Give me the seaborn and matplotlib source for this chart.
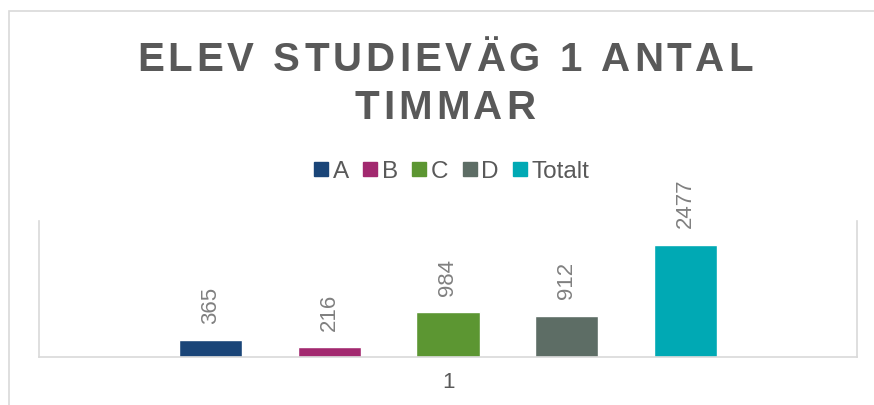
import matplotlib
matplotlib.use('Agg')
import matplotlib.pyplot as plt
import matplotlib.patches as mpatches
from matplotlib.lines import Line2D
from matplotlib import font_manager, ft2font
import pandas as pd
import seaborn as sns

# data
series = ['A', 'B', 'C', 'D', 'Totalt']
values = [365, 216, 984, 912, 2477]
category = '1'
colors = ['#1a4578', '#a2296f', '#5c9632', '#5d6d65', '#00a9b4']
title_lines = ['ELEV STUDIEVÄG 1 ANTAL', 'TIMMAR']

df = pd.DataFrame({'cat': [category] * len(series), 'serie': series, 'val': values})

sns.set_style('white')
plt.rcParams['font.family'] = ['Liberation Sans', 'DejaVu Sans']

W, H = 874, 405
fig = plt.figure(figsize=(W / 100, H / 100), dpi=100)
ax = fig.add_axes([39 / W, (H - 357) / H, (857 - 39) / W, (357 - 221) / H])

sns.barplot(data=df, x='cat', y='val', hue='serie', hue_order=series,
            palette=colors, saturation=1, width=0.727, gap=0.47,
            legend=False, ax=ax)

for cont in ax.containers:
    ax.bar_label(cont, rotation=90, padding=12, color='#808080', fontsize=16)

ax.set_ylim(0, 3000)
ax.set_xlim(-0.5, 0.5)
ax.set_xlabel('')
ax.set_ylabel('')
ax.set_yticks([])
ax.tick_params(axis='x', length=0, pad=11, labelsize=16, labelcolor='#595959')
for side in ['left', 'right', 'bottom']:
    ax.spines[side].set_color('#d9d9d9')
    ax.spines[side].set_linewidth(1.2)
ax.spines['top'].set_visible(False)

# legend
handles = [Line2D([], [], marker='s', linestyle='none', markersize=9.5,
                  markerfacecolor=c, markeredgecolor=c) for c in colors]
leg = fig.legend(handles, series, loc='center', ncol=5, frameon=False,
                 bbox_to_anchor=(452 / W, 1 - 172 / H), fontsize=17.5,
                 handlelength=0.55, handletextpad=0.2, columnspacing=0.6,
                 labelcolor='#595959')

# title, drawn letter by letter for the wide spacing
title_size = 29
fp = font_manager.FontProperties(family='Liberation Sans', weight='bold')
ft = ft2font.FT2Font(font_manager.findfont(fp))
ft.set_size(title_size, fig.dpi)
spacing = 4
for line, base in zip(title_lines, [71, 119]):
    widths = [ft.load_char(ord(ch)).linearHoriAdvance / 65536 for ch in line]
    total = sum(widths) + spacing * (len(line) - 1)
    x = 445 - total / 2
    for ch, w in zip(line, widths):
        fig.text(x / W, (H - base) / H, ch, ha='left', va='baseline',
                 fontsize=title_size, fontweight='bold', color='#595959',
                 family='Liberation Sans')
        x += w + spacing

# outer chart frame
fig.patches.append(mpatches.Rectangle((9 / W, -0.1), 1.2, (H - 11) / H + 0.1,
                                      transform=fig.transFigure, fill=False,
                                      edgecolor='#d9d9d9', linewidth=1.2))

fig.savefig('out.png', dpi=100)
